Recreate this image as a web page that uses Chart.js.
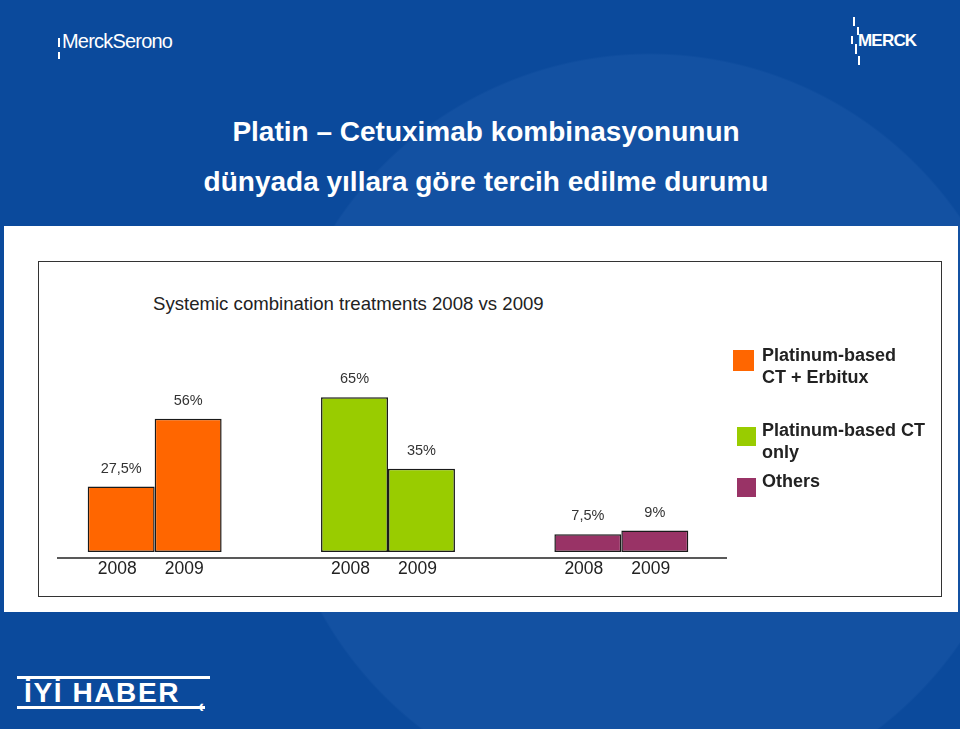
<!DOCTYPE html>
<html>
<head>
<meta charset="utf-8">
<script src="https://cdn.jsdelivr.net/npm/chart.js@4.4.1/dist/chart.umd.min.js"></script>
<style>
  html, body { margin: 0; padding: 0; }
  body {
    width: 960px; height: 729px; position: relative; overflow: hidden;
    font-family: "Liberation Sans", Arial, sans-serif;
    background:
      radial-gradient(circle at 650px 430px, #1351a2 0, #1351a2 375px, rgba(0,0,0,0) 377px),
      #0b4a9c;
  }
  .abs { position: absolute; }
  .logo { color: #fff; white-space: nowrap; }
  .dash { position: absolute; background: #fff; width: 2px; }
  .title { left: 0; width: 972px; text-align: center; color: #fff; font-weight: bold; font-size: 28px; }
  #panel { left: 4px; top: 226px; width: 954px; height: 386px; background: #fff; }
  #frame { left: 38px; top: 261px; width: 902px; height: 334px; border: 1.5px solid #333; background: #fff; }
  #chartTitle { left: 153px; top: 293px; font-size: 18.6px; color: #222; white-space: nowrap; }
  #chart { left: 38px; top: 340px; }
  .legend-box { position: absolute; }
  .legend-text { position: absolute; left: 762px; font-weight: bold; font-size: 18px; line-height: 22px; color: #222; }
</style>
</head>
<body>
  <!-- logos -->
  <div class="abs logo" style="left:62px;top:30px;font-size:20px;font-stretch:condensed;letter-spacing:-0.8px;">MerckSerono</div>
  <div class="dash" style="left:58px;top:38px;height:9px;"></div>
  <div class="dash" style="left:58px;top:52px;height:7px;"></div>
  <div class="abs logo" style="left:858px;top:31px;font-size:17px;font-weight:bold;letter-spacing:-0.8px;">MERCK</div>
  <div class="dash" style="left:853px;top:17px;height:9px;"></div>
  <div class="dash" style="left:857px;top:27px;height:8px;"></div>
  <div class="dash" style="left:851px;top:36px;height:8px;"></div>
  <div class="dash" style="left:855px;top:44px;height:10px;"></div>
  <div class="dash" style="left:858px;top:56px;height:9px;"></div>

  <div class="abs title" style="top:116px;">Platin – Cetuximab kombinasyonunun</div>
  <div class="abs title" style="top:166px;">dünyada yıllara göre tercih edilme durumu</div>

  <div id="panel" class="abs"></div>
  <div id="frame" class="abs"></div>
  <div id="chartTitle" class="abs">Systemic combination treatments 2008 vs 2009</div>
  <canvas id="chart" class="abs" width="700" height="250"></canvas>
  <div id="legend"></div>

  <!-- bottom logo -->
  <div class="abs" style="left:17px;top:676px;width:193px;height:3px;background:#fff;"></div>
  <div class="abs logo" style="left:24px;top:677px;font-size:28px;font-weight:bold;letter-spacing:1.6px;">İYİ HABER</div>
  <div class="abs" style="left:17px;top:706px;width:188px;height:3px;background:#fff;"></div>
  <div class="abs logo" style="left:198px;top:696px;font-size:18px;font-weight:bold;">‹</div>

<script>
// grupos y valores
const groups = ["Platinum-based CT + Erbitux", "Platinum-based CT only", "Others"];
const years = ["2008", "2009"];
const values2008 = [27.5, 65, 7.5];
const values2009 = [56, 35, 9];
const groupColors = ["#ff6600", "#99cc00", "#993366"];
const legendLines = [["Platinum-based", "CT + Erbitux"], ["Platinum-based CT", "only"], ["Others"]];

const fmtPct = (v) => String(v).replace(".", ",") + "%";

// leyenda en HTML
const legendPos = [
  { box: [733, 350, 21], text: 344 },
  { box: [737, 427, 19], text: 419 },
  { box: [737, 478, 19], text: 470 },
];
const legendEl = document.getElementById("legend");
legendLines.forEach((lines, i) => {
  const p = legendPos[i];
  const b = document.createElement("div");
  b.className = "legend-box";
  b.style.cssText = `left:${p.box[0]}px;top:${p.box[1]}px;width:${p.box[2]}px;height:${p.box[2]}px;background:${groupColors[i]};`;
  legendEl.appendChild(b);
  const t = document.createElement("div");
  t.className = "legend-text";
  t.style.top = p.text + "px";
  t.innerHTML = lines.join("<br>");
  legendEl.appendChild(t);
});

// etiquetas de valor, años y linea base
const barLabels = {
  id: "barLabels",
  afterDatasetsDraw(chart) {
    const { ctx, chartArea } = chart;
    ctx.save();
    ctx.strokeStyle = "#222";
    ctx.lineWidth = 1.5;
    ctx.beginPath();
    ctx.moveTo(chartArea.left + 19, chartArea.bottom + 6);
    ctx.lineTo(chartArea.right - 11, chartArea.bottom + 6);
    ctx.stroke();

    ctx.textAlign = "center";
    ctx.textBaseline = "middle";
    chart.data.datasets.forEach((ds, di) => {
      chart.getDatasetMeta(di).data.forEach((bar, i) => {
        ctx.fillStyle = "#333";
        ctx.font = '14.5px "Liberation Sans", Arial, sans-serif';
        ctx.fillText(fmtPct(ds.data[i]), bar.x, bar.y - 18);
        ctx.fillStyle = "#222";
        ctx.font = '17.5px "Liberation Sans", Arial, sans-serif';
        ctx.fillText(ds.label, bar.x - 4, chartArea.bottom + 17);
      });
    });
    ctx.restore();
  },
};

new Chart(document.getElementById("chart"), {
  type: "bar",
  data: {
    labels: groups,
    datasets: [
      { label: years[0], data: values2008 },
      { label: years[1], data: values2009 },
    ].map((d) => ({
      ...d,
      backgroundColor: groupColors,
      borderColor: "#1a1a1a",
      borderWidth: 1.5,
      borderSkipped: false,
      categoryPercentage: 0.574,
      barPercentage: 1,
    })),
  },
  options: {
    responsive: false,
    animation: false,
    layout: { padding: { top: 45, bottom: 38, left: 0, right: 0 } },
    plugins: { legend: { display: false }, tooltip: { enabled: false } },
    scales: {
      x: { display: false },
      y: { display: false, min: 0, max: 70.2 },
    },
  },
  plugins: [barLabels],
});
</script>
</body>
</html>
